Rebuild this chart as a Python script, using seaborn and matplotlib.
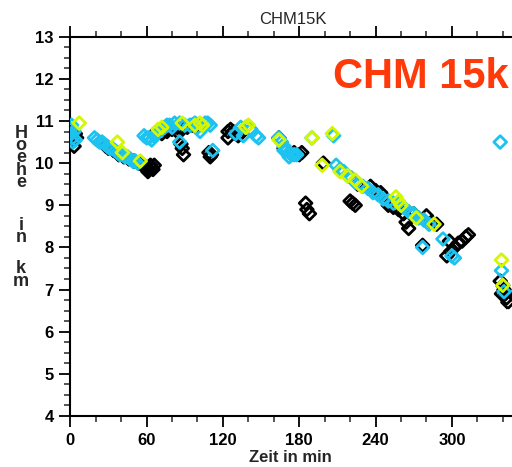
import matplotlib
matplotlib.use("Agg")
import matplotlib.pyplot as plt
from matplotlib.ticker import MultipleLocator
import seaborn as sns
import pandas as pd

# ---- data (time in min, height in km) ----
black_t = [0, 2, 4, 5, 3,
           28, 30, 34, 38, 42, 46, 50, 54, 58, 60, 62, 64, 66, 61, 63, 60, 65,
           66, 72, 76, 80, 84, 88, 92, 96, 100, 84,
           87, 88, 89, 109, 111, 110,
           124, 126, 128, 130, 132, 124, 134,
           168, 176, 180, 182, 164,
           185, 186, 188, 199,
           220, 222, 224,
           226, 236, 240, 244, 248, 250, 254, 258, 262, 264, 266, 270, 280, 284, 288,
           277, 296, 299, 302, 305, 308, 311, 313, 298,
           338, 340, 341, 342, 343, 344, 339]
black_h = [10.5, 10.65, 10.7, 10.6, 10.4,
           10.4, 10.35, 10.3, 10.2, 10.15, 10.1, 10.05, 10.0, 9.95, 9.9, 9.85, 9.9, 9.95, 9.8, 9.95, 9.85, 9.85,
           10.7, 10.7, 10.75, 10.8, 10.85, 10.8, 10.85, 10.9, 10.9, 10.75,
           10.45, 10.35, 10.2, 10.25, 10.2, 10.15,
           10.75, 10.8, 10.75, 10.7, 10.65, 10.6, 10.7,
           10.35, 10.25, 10.2, 10.25, 10.6,
           9.05, 8.9, 8.8, 10.0,
           9.1, 9.05, 9.0,
           9.5, 9.45, 9.35, 9.3, 9.15, 9.0, 8.95, 8.9, 8.8, 8.6, 8.45, 8.8, 8.75, 8.6, 8.55,
           8.05, 7.8, 7.9, 8.0, 8.1, 8.15, 8.25, 8.3, 8.15,
           7.2, 7.1, 7.0, 6.9, 6.8, 6.7, 6.9]

cyan_t = [0, 1, 2, 3, 1, 4, 2,
          19, 21, 23, 25, 27, 29, 31, 33, 35, 37, 39, 41, 43, 45, 47, 49, 51, 53,
          58, 60, 62, 64, 66, 68, 70, 72, 74, 76, 78, 80, 82, 86, 90, 94, 98, 100, 102, 104, 106, 108, 110,
          86, 112,
          130, 134, 138, 142, 146, 148, 136,
          164, 166, 168, 170, 172, 174, 176, 178, 168, 172, 190, 207,
          209, 212, 215, 218, 221, 224, 227, 230, 234, 238, 242, 246, 250, 254, 258, 262, 266, 270, 274, 278, 282,
          277, 293, 300, 302,
          338, 339, 341]
cyan_h = [10.8, 10.7, 10.6, 10.75, 10.9, 10.55, 10.5,
          10.6, 10.55, 10.5, 10.5, 10.45, 10.4, 10.35, 10.35, 10.3, 10.25, 10.2, 10.2, 10.15, 10.15, 10.1, 10.05, 10.05, 10.0,
          10.65, 10.6, 10.6, 10.55, 10.65, 10.7, 10.75, 10.8, 10.85, 10.9, 10.9, 10.85, 10.95, 10.95, 10.9, 10.9, 10.95, 10.85, 10.75, 10.9, 10.95, 10.95, 10.9,
          10.5, 10.3,
          10.7, 10.85, 10.85, 10.8, 10.65, 10.6, 10.65,
          10.6, 10.5, 10.4, 10.3, 10.25, 10.2, 10.2, 10.2, 10.3, 10.15, 10.6, 10.65,
          9.95, 9.85, 9.8, 9.7, 9.65, 9.55, 9.5, 9.45, 9.4, 9.3, 9.25, 9.15, 9.1, 9.05, 9.05, 8.95, 8.85, 8.8, 8.7, 8.65, 8.55,
          8.0, 8.2, 7.8, 7.75,
          10.5, 7.45, 6.95]

yellow_t = [7, 37, 41, 55, 69, 72, 88, 98, 102, 104, 138, 140, 164, 190, 206, 198,
            212, 218, 224, 229, 256, 258, 260, 272, 286, 339, 340]
yellow_h = [10.95, 10.5, 10.25, 10.05, 10.8, 10.85, 10.95, 10.9, 10.95, 10.9, 10.85, 10.9, 10.55, 10.6, 10.7, 9.95,
            9.8, 9.7, 9.6, 9.45, 9.2, 9.1, 9.0, 8.7, 8.55, 7.7, 7.1]

x_ticks = [0, 60, 120, 180, 240, 300]
y_ticks = [4, 5, 6, 7, 8, 9, 10, 11, 12, 13]
ylabel_parts = ["H\no\ne\nh\ne", "i\nn", "k\nm"]

sns.set_style("white")
plt.rcParams['font.family'] = ['Liberation Sans', 'DejaVu Sans']

W, H = 512, 467
fig = plt.figure(figsize=(W / 100, H / 100), dpi=100)
left_px, right_px, top_px, bot_px = 70.3, 528.2, 36.7, 416.0
ax = fig.add_axes([left_px / W, 1 - bot_px / H, (right_px - left_px) / W, (bot_px - top_px) / H])

series = [(black_t, black_h, "black"), (cyan_t, cyan_h, "#1CC3F0"), (yellow_t, yellow_h, "#D4F700")]
for t, h, c in series:
    df = pd.DataFrame({"t": t, "h": h})
    sns.scatterplot(data=df, x="t", y="h", ax=ax, marker="D", s=42,
                    fc="none", ec=c, linewidth=2.0, legend=False, zorder=3)

ax.set_xlim(0, 360)
ax.set_ylim(4, 13)
ax.set_xticks(x_ticks)
ax.set_yticks(y_ticks)
ax.xaxis.set_minor_locator(MultipleLocator(20))
ax.yaxis.set_minor_locator(MultipleLocator(0.25))
ax.tick_params(axis="both", which="major", direction="out", length=8, width=1.3,
               labelsize=12, pad=4, colors="black")
ax.tick_params(axis="both", which="minor", direction="out", length=4, width=1.1)
ax.tick_params(axis="x", which="both", top=True, labeltop=False, bottom=True)
ax.tick_params(axis="y", which="both", left=True, right=False)
for lab in ax.get_xticklabels() + ax.get_yticklabels():
    lab.set_fontweight("bold")
for s in ["left", "bottom", "top"]:
    ax.spines[s].set_linewidth(1.5)
    ax.spines[s].set_color("black")
ax.spines["right"].set_visible(False)
ax.set_xlabel("")
ax.set_ylabel("")

fig.text(293 / W, 1 - 19.5 / H, "CHM15K", ha="center", va="center", fontsize=12)
fig.text(290 / W, 1 - 457 / H, "Zeit in min", ha="center", va="center", fontsize=12, fontweight="bold")
fig.text(333 / W, 1 - 88 / H, "CHM 15k", ha="left", va="baseline", fontsize=30,
         fontweight="bold", color="#FF3A0A")

# stacked vertical y label (top, bottom pixel extents from the reference)
part_extents = [(134, 182), (219, 244), (262, 288)]
for txt, (y0, y1) in zip(ylabel_parts, part_extents):
    fig.text(21 / W, 1 - (y0 + y1) / 2 / H, txt, ha="center", va="center",
             fontsize=13, fontweight="bold", linespacing=0.62)

fig.savefig("out.png", dpi=100)
